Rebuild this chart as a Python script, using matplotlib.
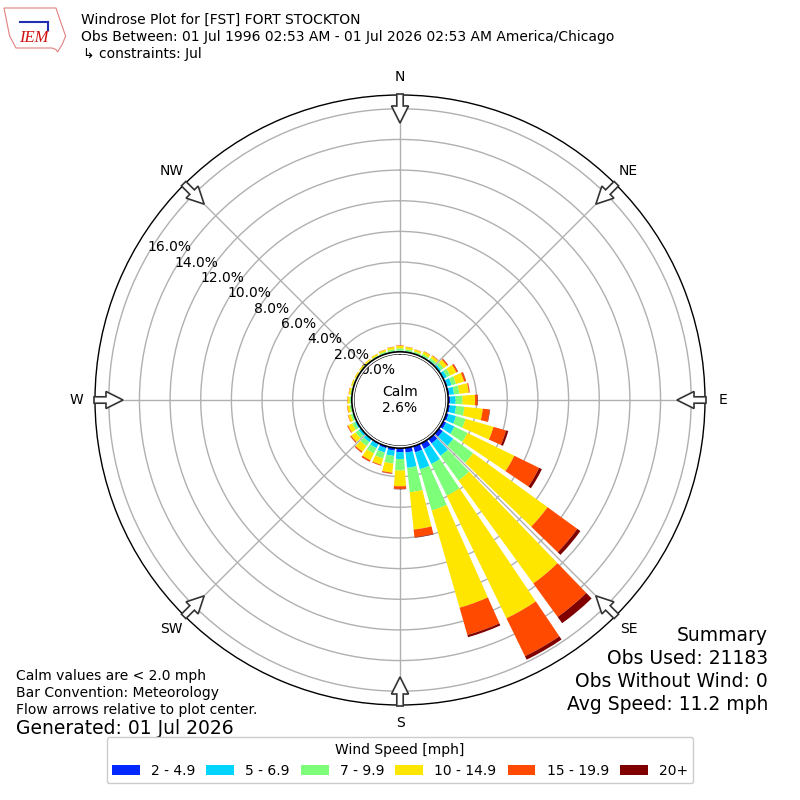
import numpy as np
import matplotlib
matplotlib.use("Agg")
import matplotlib.pyplot as plt
from matplotlib.patches import Circle, FancyArrow, Patch, Polygon

# wind direction bins (deg, meteorological) and frequency (%) per speed class
directions = np.arange(0, 360, 10)
speed_labels = ["2 - 4.9", "5 - 6.9", "7 - 9.9", "10 - 14.9", "15 - 19.9", "20+"]
speed_colors = ["#0028ff", "#00d4ff", "#7dff7a", "#ffe600", "#ff4a00", "#800000"]

spd_2_5 = [0.10, 0.08, 0.08, 0.09, 0.10, 0.14, 0.18, 0.22, 0.24, 0.28, 0.28, 0.30,
           0.35, 0.45, 0.50, 0.55, 0.55, 0.45, 0.40, 0.32, 0.27, 0.22, 0.18, 0.14,
           0.12, 0.09, 0.08, 0.07, 0.06, 0.06, 0.06, 0.06, 0.06, 0.07, 0.08, 0.09]
spd_5_7 = [0.12, 0.12, 0.10, 0.12, 0.14, 0.18, 0.22, 0.28, 0.30, 0.35, 0.40, 0.50,
           0.60, 0.85, 1.00, 1.10, 1.15, 1.00, 0.45, 0.35, 0.30, 0.28, 0.22, 0.20,
           0.16, 0.12, 0.10, 0.10, 0.09, 0.08, 0.08, 0.08, 0.08, 0.09, 0.10, 0.11]
spd_7_10 = [0.15, 0.13, 0.12, 0.13, 0.15, 0.20, 0.25, 0.30, 0.35, 0.45, 0.55, 0.65,
            0.95, 1.60, 2.00, 2.30, 2.80, 1.60, 0.75, 0.50, 0.40, 0.38, 0.32, 0.25,
            0.20, 0.14, 0.12, 0.12, 0.10, 0.09, 0.08, 0.08, 0.08, 0.09, 0.11, 0.13]
spd_10_15 = [0.18, 0.15, 0.13, 0.18, 0.18, 0.27, 0.45, 0.55, 0.62, 0.82, 1.20, 1.90,
             3.40, 6.00, 8.30, 8.90, 6.60, 2.45, 1.03, 0.60, 0.43, 0.50, 0.45, 0.35,
             0.30, 0.17, 0.15, 0.14, 0.11, 0.09, 0.08, 0.08, 0.09, 0.10, 0.12, 0.15]
spd_15_20 = [0.03, 0.02, 0.02, 0.03, 0.03, 0.08, 0.10, 0.12, 0.06, 0.16, 0.45, 0.85,
             1.80, 2.40, 2.70, 2.75, 1.85, 0.50, 0.17, 0.06, 0.05, 0.10, 0.08, 0.07,
             0.05, 0.03, 0.03, 0.02, 0.02, 0.01, 0.01, 0.01, 0.01, 0.01, 0.02, 0.02]
spd_20p = [0.00, 0.00, 0.00, 0.00, 0.01, 0.02, 0.02, 0.02, 0.01, 0.03, 0.03, 0.15,
           0.20, 0.25, 0.50, 0.25, 0.15, 0.03, 0.03, 0.02, 0.01, 0.01, 0.01, 0.01,
           0.01, 0.00, 0.00, 0.00, 0.00, 0.00, 0.00, 0.00, 0.00, 0.00, 0.00, 0.00]
speed_data = [spd_2_5, spd_5_7, spd_7_10, spd_10_15, spd_15_20, spd_20p]

calm_pct = 2.6
rticks = [0, 2, 4, 6, 8, 10, 12, 14, 16]
compass = ["N", "NE", "E", "SE", "S", "SW", "W", "NW"]

fig = plt.figure(figsize=(8, 8), dpi=100)
ax = fig.add_axes([0.11875, 0.11875, 0.7625, 0.7625], projection="polar")
ax.set_theta_zero_location("N")
ax.set_theta_direction(-1)
ax.set_rorigin(-3.0)
ax.set_ylim(0, 16.9)
ax.set_axisbelow(True)

theta = np.deg2rad(directions)
bottom = np.zeros(len(directions))
for vals, col in zip(speed_data, speed_colors):
    vals = np.array(vals)
    ax.bar(theta, vals, width=np.deg2rad(8), bottom=bottom, color=col,
           edgecolor="none", align="center", zorder=2)
    bottom += vals

ax.set_xticks(np.deg2rad(np.arange(0, 360, 45)))
ax.set_xticklabels([])
ax.set_rgrids(rticks, labels=["%.1f%%" % v for v in rticks], angle=300, fontsize=10)
ax.grid(True, color="#b0b0b0", linewidth=1)
ax.spines["polar"].set_linewidth(1.0)

# calm circle
ax.add_patch(Circle((0.5, 0.5), 0.079, transform=ax.transAxes, facecolor="white",
                    edgecolor="black", lw=1.2, zorder=5))
ax.text(0.5, 0.5, "Calm\n%.1f%%" % calm_pct, transform=ax.transAxes, ha="center",
        va="center", fontsize=10, zorder=6, linespacing=1.2)

# compass labels and flow arrows
for i, lab in enumerate(compass):
    a = np.deg2rad(i * 45)
    ux, uy = np.sin(a), np.cos(a)
    ax.text(0.5 + 0.53 * ux, 0.5 + 0.53 * uy, lab, transform=ax.transAxes,
            ha="center", va="center", fontsize=10)
    r0, r1 = 0.5016, 0.454
    arr = FancyArrow(0.5 + r0 * ux, 0.5 + r0 * uy, (r1 - r0) * ux, (r1 - r0) * uy,
                     width=0.0105, head_width=0.028, head_length=0.028,
                     length_includes_head=True, transform=ax.transAxes,
                     facecolor="white", edgecolor="#333333", lw=1.2,
                     clip_on=False, zorder=7)
    ax.add_patch(arr)

# header
fig.text(0.101, 0.975, "Windrose Plot for [FST] FORT STOCKTON", fontsize=10, va="center")
fig.text(0.101, 0.954, "Obs Between: 01 Jul 1996 02:53 AM - 01 Jul 2026 02:53 AM America/Chicago",
         fontsize=10, va="center")
fig.text(0.104, 0.933, "\u21b3 constraints: Jul", fontsize=10, va="center")

# rough logo
iowa = [(0.005, 0.990), (0.070, 0.990), (0.075, 0.975), (0.082, 0.955), (0.078, 0.945),
        (0.072, 0.935), (0.070, 0.938), (0.065, 0.940), (0.020, 0.940), (0.012, 0.955),
        (0.008, 0.975)]
fig.patches.append(Polygon(iowa, closed=True, transform=fig.transFigure,
                           facecolor="white", edgecolor="#e08080", lw=0.8))
fig.lines.append(plt.Line2D([0.025, 0.060], [0.972, 0.972], transform=fig.transFigure,
                            color="#1f2fb0", lw=1.5))
fig.lines.append(plt.Line2D([0.060, 0.060], [0.972, 0.962], transform=fig.transFigure,
                            color="#1f2fb0", lw=1.5))
fig.text(0.042, 0.953, "IEM", fontsize=12, color="#d01010", style="italic",
         family="Liberation Serif", ha="center", va="center")

# footer notes
fig.text(0.02, 0.155, "Calm values are < 2.0 mph", fontsize=10, va="center")
fig.text(0.02, 0.134, "Bar Convention: Meteorology", fontsize=10, va="center")
fig.text(0.02, 0.113, "Flow arrows relative to plot center.", fontsize=10, va="center")
fig.text(0.02, 0.089, "Generated: 01 Jul 2026", fontsize=13.5, va="center")

fig.text(0.96, 0.206, "Summary", fontsize=13.5, ha="right", va="center")
fig.text(0.96, 0.177, "Obs Used: 21183", fontsize=13.5, ha="right", va="center")
fig.text(0.96, 0.148, "Obs Without Wind: 0", fontsize=13.5, ha="right", va="center")
fig.text(0.96, 0.119, "Avg Speed: 11.2 mph", fontsize=13.5, ha="right", va="center")

handles = [Patch(facecolor=c, edgecolor="none") for c in speed_colors]
fig.legend(handles, speed_labels, title="Wind Speed [mph]", ncol=6,
           loc="lower center", bbox_to_anchor=(0.5, 0.012), fontsize=10,
           title_fontsize=10, handlelength=2.0, columnspacing=0.8,
           handletextpad=0.8, framealpha=1)

fig.savefig("out.png", dpi=100)
